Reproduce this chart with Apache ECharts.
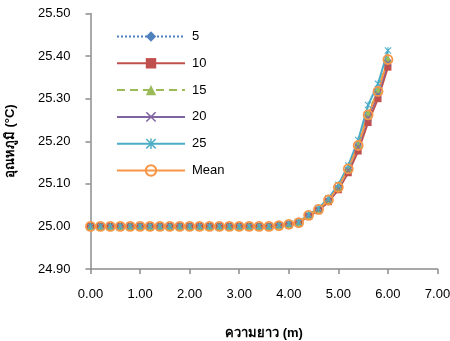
<!DOCTYPE html>
<html>
<head>
<meta charset="utf-8">
<script src="https://cdn.jsdelivr.net/npm/echarts@6/dist/echarts.min.js"></script>
<style>
  html, body { margin: 0; padding: 0; background: #fff; }
  #main { width: 450px; height: 341px; }
</style>
</head>
<body>
<div id="main"></div>
<script>
// positions along the length (m)
var xs = [0, 0.2, 0.4, 0.6, 0.8, 1.0, 1.2, 1.4, 1.6, 1.8, 2.0, 2.2, 2.4, 2.6, 2.8, 3.0,
          3.2, 3.4, 3.6, 3.8, 4.0, 4.2, 4.4, 4.6, 4.8, 5.0, 5.2, 5.4, 5.6, 5.8, 6.0];
var flat = [25.000, 25.000, 25.000, 25.000, 25.000, 25.000, 25.000, 25.000, 25.000, 25.000,
            25.000, 25.000, 25.000, 25.000, 25.000, 25.000, 25.000, 25.000, 25.000];
// temperatures from x=3.8 onwards
var t5    = [25.002, 25.005, 25.009, 25.025, 25.039, 25.061, 25.091, 25.133, 25.188, 25.258, 25.313, 25.388];
var t10   = [25.002, 25.004, 25.008, 25.024, 25.037, 25.058, 25.086, 25.126, 25.177, 25.244, 25.300, 25.374];
var t15   = [25.002, 25.005, 25.009, 25.026, 25.040, 25.063, 25.093, 25.136, 25.192, 25.265, 25.320, 25.394];
var t20   = [25.002, 25.005, 25.009, 25.025, 25.039, 25.061, 25.090, 25.132, 25.187, 25.256, 25.310, 25.384];
var t25   = [25.003, 25.006, 25.010, 25.028, 25.043, 25.066, 25.098, 25.143, 25.203, 25.285, 25.335, 25.413];
var tMean = [25.002, 25.005, 25.009, 25.026, 25.040, 25.062, 25.092, 25.135, 25.190, 25.262, 25.317, 25.392];

var names = ['5', '10', '15', '20', '25', 'Mean'];
var colors = ['#4F81BD', '#C0504D', '#9BBB59', '#8064A2', '#4BACC6', '#F79646'];

function pairs(tail) {
  var ys = flat.concat(tail);
  return xs.map(function (x, i) { return [x, ys[i]]; });
}

var crossPath = 'path://M1,0L5,4L9,0L10,1L6,5L10,9L9,10L5,6L1,10L0,9L4,5L0,1Z';
var starPath = 'path://M1,0L5,4L9,0L10,1L6,5L10,9L9,10L5,6L1,10L0,9L4,5L0,1Z M4.3,0L5.7,0L5.7,10L4.3,10Z';

var series = [
  { data: pairs(t5), symbol: 'diamond', symbolSize: 8, lineStyle: { type: 'dotted', width: 1.2 } },
  { data: pairs(t10), symbol: 'rect', symbolSize: 7, lineStyle: { type: 'solid', width: 2 } },
  { data: pairs(t15), symbol: 'triangle', symbolSize: 8, lineStyle: { type: [8, 5], width: 2 } },
  { data: pairs(t20), symbol: crossPath, symbolSize: 7, lineStyle: { type: 'solid', width: 2 } },
  { data: pairs(t25), symbol: starPath, symbolSize: 7, lineStyle: { type: 'solid', width: 2 } },
  { data: pairs(tMean), symbol: 'circle', symbolSize: 9, lineStyle: { type: 'solid', width: 2 },
    itemStyle: { color: 'rgba(255,255,255,0)', borderColor: colors[5], borderWidth: 1.8 } }
].map(function (s, i) {
  s.name = names[i];
  s.type = 'line';
  s.showAllSymbol = true;
  s.animation = false;
  s.lineStyle.color = colors[i];
  if (!s.itemStyle) s.itemStyle = { color: colors[i] };
  return s;
});

var axisGray = '#8c8c8c';
var option = {
  color: colors,
  legend: {
    orient: 'vertical',
    left: 116,
    top: 30,
    padding: 0,
    itemWidth: 68,
    itemHeight: 13,
    itemGap: 13.8,
    textStyle: { fontFamily: 'Liberation Sans', fontSize: 13, color: '#000', padding: [0, 0, 0, 2] },
    data: names
  },
  grid: { left: 90.5, right: 12.5, top: 13.5, bottom: 72, outerBoundsMode: 'none' },
  xAxis: {
    type: 'value',
    min: 0, max: 7, interval: 1,
    name: 'ความยาว (m)',
    nameLocation: 'middle',
    nameGap: 58,
    nameTextStyle: { fontFamily: 'Liberation Sans', fontSize: 13, fontWeight: 'bold', color: '#000' },
    splitLine: { show: false },
    axisLine: { lineStyle: { color: axisGray, width: 1.5 } },
    axisTick: { length: 5, lineStyle: { color: axisGray, width: 1.5 } },
    axisLabel: {
      margin: 19, fontFamily: 'Liberation Sans', fontSize: 13, color: '#000',
      formatter: function (v) { return v.toFixed(2); }
    }
  },
  yAxis: {
    type: 'value',
    min: 24.9, max: 25.5, interval: 0.1,
    name: 'อุณหภูมิ (°C)',
    nameLocation: 'middle',
    nameGap: 74,
    nameRotate: 90,
    nameTextStyle: { fontFamily: 'Liberation Sans', fontSize: 13, fontWeight: 'bold', color: '#000' },
    splitLine: { show: false },
    axisLine: { show: true, lineStyle: { color: axisGray, width: 1.5 } },
    axisTick: { show: true, length: 5, lineStyle: { color: axisGray, width: 1.5 } },
    axisLabel: {
      margin: 20, fontFamily: 'Liberation Sans', fontSize: 13, color: '#000',
      formatter: function (v) { return v.toFixed(2); }
    }
  },
  series: series
};

var myChart = echarts.init(document.getElementById('main'));
myChart.setOption(option);
</script>
</body>
</html>
